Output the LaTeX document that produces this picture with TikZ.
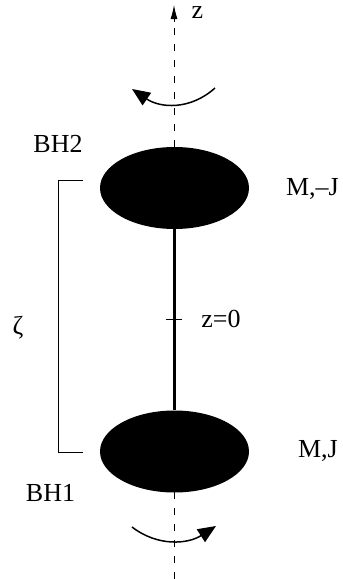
\documentclass[tikz,border=0pt]{standalone}
\usepackage{fontspec}
\setmainfont{Liberation Serif}
\usetikzlibrary{shapes.geometric,arrows.meta}
\begin{document}
\begin{tikzpicture}[x=1pt,y=-1pt,
  bh/.style={ellipse,fill=black,draw=none,minimum width=149pt,minimum height=82pt,inner sep=0pt},
  lbl/.style={inner sep=0pt,font=\fontsize{26}{30}\selectfont},
  axis/.style={line width=0.9pt,dash pattern=on 7pt off 9pt},
  rot/.style={line width=1.5pt,-{Triangle[length=18pt,width=15pt]}},
  thin/.style={line width=1pt}]
\useasboundingbox (0,0) rectangle (343,579);
% axis
\coordinate (axbot) at (174,579);
\coordinate (axtop) at (174,5);
\draw[axis] (axbot) -- (174,20);
\draw[line width=0.9pt,-{Latex[length=14pt,width=7pt]}] (174,22) -- (axtop);
% black holes
\node[bh] (e2) at (174.5,188) {};
\node[bh] (e1) at (174.5,451.5) {};
\draw[line width=3.2pt] (e2.south) -- (e1.north);
% tick at z=0
\coordinate (tl) at (166,319);
\coordinate (tr) at (182,319);
\draw[thin] (tl) -- (tr);
% bracket
\coordinate (b1) at (83,180);
\coordinate (b2) at (58,180);
\coordinate (b3) at (58,452);
\coordinate (b4) at (83,452);
\draw[thin] (b1) -- (b2) -- (b3) -- (b4);
% rotation arrows
\coordinate (ta) at (215,88);
\coordinate (tb) at (132,89);
\draw[rot] (ta) .. controls (190,110.5) and (160,108) .. (tb);
\coordinate (ba) at (132,527);
\coordinate (bb) at (216,526);
\draw[rot] (ba) .. controls (158,547) and (188,544) .. (bb);
% labels
\node[lbl] (zl) at (197.5,13) {z};
\node[lbl] (bh2) at (58,144) {BH2};
\node[lbl] (bh1) at (50.5,493) {BH1};
\node[lbl,anchor=east] (mj2) at (339,189) {M,–J};
\node[lbl] (mj1) at (318,451) {M,J};
\node[lbl] (z0) at (221,319) {z=0};
\node[lbl] (zeta) at (18,328) {ζ};
\end{tikzpicture}
\end{document}
